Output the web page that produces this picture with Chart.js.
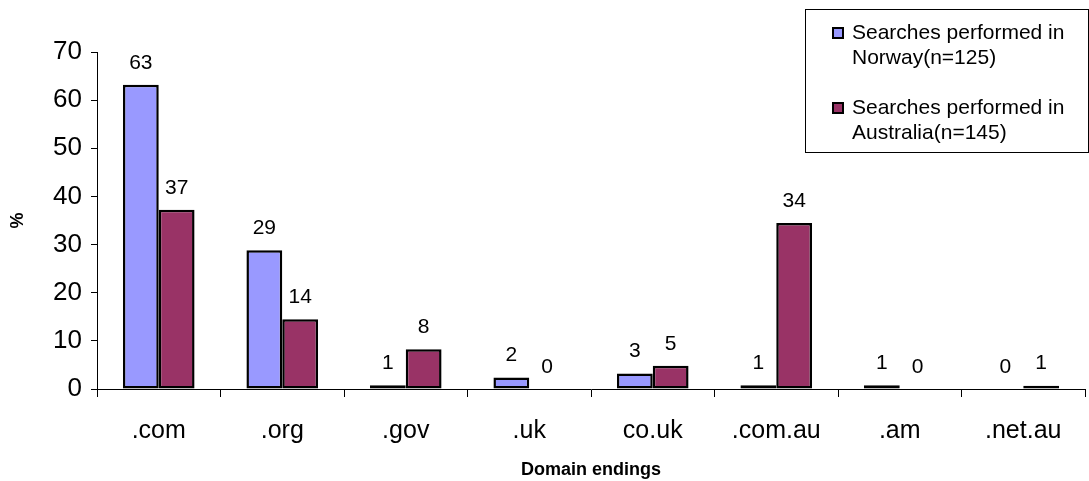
<!DOCTYPE html>
<html>
<head>
<meta charset="utf-8">
<style>
  html, body { margin: 0; padding: 0; background: #ffffff; }
  canvas { display: block; }
</style>
<script src="https://cdn.jsdelivr.net/npm/chart.js@4/dist/chart.umd.min.js"></script>
</head>
<body>
<canvas id="chart" width="1089" height="481"></canvas>
<script>
// Domain endings of search results, share of searches (%)
const categories = ['.com', '.org', '.gov', '.uk', 'co.uk', '.com.au', '.am', '.net.au'];
const seriesNames = ['Searches performed in Norway(n=125)', 'Searches performed in Australia(n=145)'];
const legendLines = [['Searches performed in', 'Norway(n=125)'], ['Searches performed in', 'Australia(n=145)']];
const norway = [63.2, 28.8, 0.8, 2.4, 3.2, 0.8, 0.8, 0];
const australia = [37.24, 14.48, 8.28, 0, 4.83, 34.48, 0, 0.69];
const yTicks = [0, 10, 20, 30, 40, 50, 60, 70];

const FONT = "Arial, 'Liberation Sans', sans-serif";
const colors = ['#9999FF', '#993366'];

// Value labels above each bar, rounded to whole percent
const valueLabels = {
  id: 'valueLabels',
  afterDatasetsDraw(chart) {
    const ctx = chart.ctx;
    ctx.save();
    ctx.font = '21px ' + FONT;
    ctx.fillStyle = '#000';
    ctx.textAlign = 'center';
    ctx.textBaseline = 'middle';
    chart.data.datasets.forEach((ds, i) => {
      chart.getDatasetMeta(i).data.forEach((el, j) => {
        ctx.fillText(String(Math.round(ds.data[j])), el.x, el.y - 22);
      });
    });
    ctx.restore();
  }
};

// Boxed legend in the top right corner
const boxLegend = {
  id: 'boxLegend',
  afterDraw(chart) {
    const ctx = chart.ctx;
    ctx.save();
    ctx.fillStyle = '#fff';
    ctx.fillRect(805.5, 9.5, 283, 143);
    ctx.strokeStyle = '#000';
    ctx.lineWidth = 1;
    ctx.strokeRect(805.5, 9.5, 283, 143);
    ctx.font = '21px ' + FONT;
    ctx.textAlign = 'left';
    ctx.textBaseline = 'middle';
    const tops = [33, 108];
    legendLines.forEach((lines, i) => {
      const y = tops[i];
      ctx.fillStyle = colors[i];
      ctx.fillRect(833, y - 5, 10, 10);
      ctx.lineWidth = 2;
      ctx.strokeStyle = '#000';
      ctx.strokeRect(833, y - 5, 10, 10);
      ctx.fillStyle = '#000';
      lines.forEach((t, k) => ctx.fillText(t, 852, y + k * 25));
    });
    ctx.restore();
  }
};

new Chart(document.getElementById('chart'), {
  type: 'bar',
  data: {
    labels: categories,
    datasets: [
      { label: seriesNames[0], data: norway, backgroundColor: colors[0], borderColor: '#000', borderWidth: 2.5, borderSkipped: false },
      { label: seriesNames[1], data: australia, backgroundColor: colors[1], borderColor: '#000', borderWidth: 2.5, borderSkipped: false }
    ]
  },
  options: {
    responsive: false,
    animation: false,
    events: [],
    layout: { padding: { top: 52, right: 4, left: 0, bottom: 0 } },
    datasets: { bar: { categoryPercentage: 0.58, barPercentage: 1 } },
    plugins: { legend: { display: false }, tooltip: { enabled: false } },
    scales: {
      x: {
        offset: true,
        grid: { display: true, drawOnChartArea: false, drawTicks: true, tickLength: 8, offset: true, color: '#000' },
        border: { display: true, color: '#000', width: 1 },
        ticks: { color: '#000', font: { family: FONT, size: 25 }, padding: 19, maxRotation: 0 },
        title: { display: true, text: 'Domain endings', color: '#000', font: { family: FONT, size: 18, weight: 'bold' }, padding: { top: 2, bottom: 0 } },
        afterFit(scale) { scale.height = 481 - 389; }
      },
      y: {
        min: 0,
        max: 70,
        afterBuildTicks(scale) { scale.ticks = yTicks.map(v => ({ value: v })); },
        grid: { display: true, drawOnChartArea: false, drawTicks: true, tickLength: 6, color: '#000' },
        border: { display: true, color: '#000', width: 1 },
        ticks: { color: '#000', font: { family: FONT, size: 26 }, padding: 9 },
        title: { display: true, text: '%', color: '#000', font: { family: FONT, size: 18, weight: 'bold' }, padding: { top: 7, bottom: 0 } },
        afterFit(scale) { scale.width = 97; }
      }
    }
  },
  plugins: [valueLabels, boxLegend]
});
</script>
</body>
</html>
